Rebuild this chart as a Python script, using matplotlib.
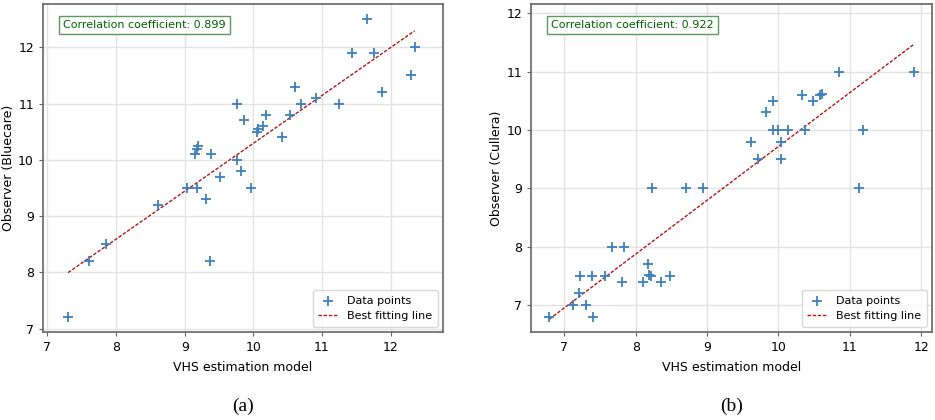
import numpy as np
import matplotlib
matplotlib.use('Agg')
from matplotlib import pyplot as plt

# panel (a): VHS model vs observer (Bluecare)
x_a = [11.65, 12.35, 11.44, 11.75, 12.29, 11.88, 10.60, 10.70, 10.91, 11.24,
       9.76, 9.86, 10.19, 10.54, 10.14, 10.05, 10.07, 10.41, 9.15, 9.18,
       9.20, 9.38, 9.76, 9.51, 9.82, 9.03, 9.18, 9.97, 9.31, 8.61,
       7.85, 7.60, 9.37, 7.30]
y_a = [12.5, 12.0, 11.9, 11.9, 11.5, 11.2, 11.3, 11.0, 11.1, 11.0,
       11.0, 10.7, 10.8, 10.8, 10.6, 10.5, 10.55, 10.4, 10.1, 10.2,
       10.25, 10.1, 10.0, 9.7, 9.8, 9.5, 9.5, 9.5, 9.3, 9.2,
       8.5, 8.2, 8.2, 7.2]

# panel (b): VHS model vs observer (Cullera)
x_b = [10.85, 11.90, 10.33, 10.58, 10.61, 10.49, 9.92, 9.82, 9.92, 9.99,
       10.13, 10.38, 11.18, 9.62, 10.04, 9.71, 10.03, 8.23, 8.70, 8.95,
       11.13, 7.67, 7.83, 8.17, 7.22, 7.39, 7.57, 8.19, 8.22, 8.48,
       7.81, 8.10, 8.35, 7.20, 7.12, 7.30, 7.40, 6.79]
y_b = [11.0, 11.0, 10.6, 10.6, 10.62, 10.5, 10.5, 10.3, 10.0, 10.0,
       10.0, 10.0, 10.0, 9.8, 9.8, 9.5, 9.5, 9.0, 9.0, 9.0,
       9.0, 8.0, 8.0, 7.7, 7.5, 7.5, 7.5, 7.52, 7.5, 7.5,
       7.4, 7.4, 7.4, 7.2, 7.0, 7.0, 6.8, 6.8]

corr_labels = ['0.899', '0.922']
ylabels = ['Observer (Bluecare)', 'Observer (Cullera)']
panel_tags = ['(a)', '(b)']

fig = plt.figure(figsize=(9.35, 4.2), dpi=100)
ax_a = fig.add_axes([0.046, 0.209, 0.428, 0.781])
ax_b = fig.add_axes([0.568, 0.209, 0.429, 0.781])


def draw_panel(ax, x, y, corr, ylabel, tag):
    x = np.array(x)
    y = np.array(y)
    ax.scatter(x, y, marker='+', s=45, color='#3d7fbf', linewidths=1.3,
               label='Data points', zorder=3)
    # least squares fit, drawn over the range of x
    k, b = np.polyfit(x, y, 1)
    xx = np.array([x.min(), x.max()])
    ax.plot(xx, k * xx + b, color='#b01818', linestyle=(0, (2.5, 1.2)),
            linewidth=1.0, label='Best fitting line', zorder=2)

    # same limits on both axes: full data range + 5%
    lo = min(x.min(), y.min())
    hi = max(x.max(), y.max())
    pad = (hi - lo) * 0.05
    ax.set_xlim(lo - pad, hi + pad)
    ax.set_ylim(lo - pad, hi + pad)
    ax.set_xticks(range(7, 13))
    ax.set_yticks(range(7, 13))

    ax.grid(True, color='#e3e3e3', linewidth=1.0)
    ax.set_axisbelow(True)
    for s in ax.spines.values():
        s.set_color('#666666')
        s.set_linewidth(1.2)
    ax.tick_params(labelsize=9, color='#666666', length=3)

    ax.set_xlabel('VHS estimation model', fontsize=9, labelpad=5)
    ax.set_ylabel(ylabel, fontsize=9, labelpad=2)

    ax.text(0.05, 0.952, 'Correlation coefficient: ' + corr, transform=ax.transAxes,
            fontsize=8, color='darkgreen', va='top', ha='left',
            bbox=dict(boxstyle='square,pad=0.4', facecolor='white',
                      edgecolor='#5a9a5a', linewidth=1.0))

    leg = ax.legend(loc='lower right', fontsize=8, frameon=True, fancybox=True,
                    borderpad=0.5, handlelength=1.8)
    leg.get_frame().set_edgecolor('#d0d0d0')

    # (a)/(b) caption under the panel
    pos = ax.get_position()
    fig.text(pos.x0 + pos.width / 2, 0.012, tag, ha='center', va='bottom',
             fontsize=14, family='Liberation Serif')


draw_panel(ax_a, x_a, y_a, corr_labels[0], ylabels[0], panel_tags[0])
draw_panel(ax_b, x_b, y_b, corr_labels[1], ylabels[1], panel_tags[1])

fig.savefig('out.png', dpi=100, facecolor='white')
